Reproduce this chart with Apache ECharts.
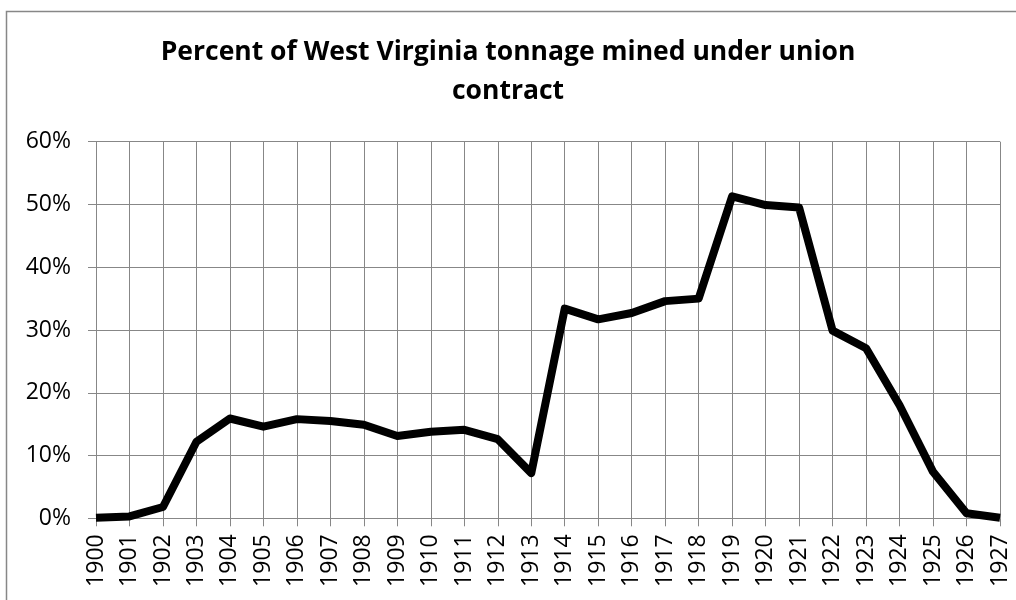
<!DOCTYPE html>
<html>
<head>
<meta charset="utf-8">
<script src="https://cdn.jsdelivr.net/npm/echarts@6/dist/echarts.min.js"></script>
<style>
html,body{margin:0;padding:0;background:#fff;}
#main{width:1016px;height:600px;}
</style>
</head>
<body>
<div id="main"></div>
<script>
const years = ['1900','1901','1902','1903','1904','1905','1906','1907','1908','1909','1910','1911','1912','1913','1914','1915','1916','1917','1918','1919','1920','1921','1922','1923','1924','1925','1926','1927'];
const percentUnion = [0.1,0.3,1.8,12.2,15.9,14.6,15.8,15.5,14.9,13.1,13.8,14.1,12.6,7.2,33.4,31.7,32.7,34.6,35.0,51.3,49.9,49.5,29.9,27.1,18.0,7.4,0.8,0.1];
const titleText = 'Percent of West Virginia tonnage mined under union\ncontract';

const chart = echarts.init(document.getElementById('main'), null, {renderer:'canvas'});
const gridColor = '#878787';
chart.setOption({
  animation:false,
  backgroundColor:'#ffffff',
  graphic:[{
    type:'rect', left:4, top:9, shape:{width:1100, height:700},
    style:{fill:'none', stroke:gridColor, lineWidth:1.5}, silent:true, z:-1
  }],
  title:{
    text:titleText, left:'center', top:28,
    textStyle:{fontFamily:'Open Sans', fontWeight:'bold', fontSize:26.5, color:'#000', lineHeight:39}
  },
  grid:{left:96, right:16, top:141.7, bottom:81.7, containLabel:false},
  xAxis:{
    type:'category', data:years, boundaryGap:false,
    axisLine:{show:true, lineStyle:{color:gridColor, width:1}},
    axisTick:{show:true, length:8, alignWithLabel:true, interval:0, lineStyle:{color:gridColor}},
    splitLine:{show:true, interval:0, lineStyle:{color:gridColor, width:1}},
    axisLabel:{rotate:90, interval:0, margin:16, fontFamily:'Open Sans', fontSize:23, color:'#000'}
  },
  yAxis:{
    type:'value', min:0, max:60, interval:10,
    axisLine:{show:false},
    axisTick:{show:true, length:8, lineStyle:{color:gridColor}},
    splitLine:{show:true, lineStyle:{color:gridColor, width:1}},
    axisLabel:{formatter:'{value}%', margin:25, fontFamily:'Open Sans', fontSize:23, color:'#000'}
  },
  series:[{
    type:'line', data:percentUnion, symbol:'none',
    lineStyle:{color:'#000', width:8, join:'round'}
  }]
});
</script>
</body>
</html>
